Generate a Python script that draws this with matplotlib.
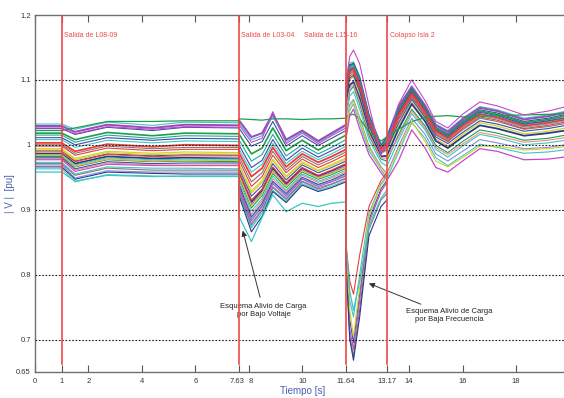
import matplotlib
matplotlib.use("Agg")
import matplotlib.pyplot as plt
import matplotlib.transforms as mtransforms

# knot times (duplicated times mark the switching events)
T = [0, 1, 1.5, 2.7, 4.4, 5.6, 7.63,
     7.63, 8.1, 8.5, 8.9, 9.4, 10.0, 10.6, 11.1, 11.64,
     11.64, 11.78, 11.92, 12.15, 12.5, 12.95, 13.17,
     13.6, 14.1, 14.6, 15.0, 15.45, 16.0, 16.65, 17.3, 18.3, 19.2, 20]
T_island = T[:23]

# buses that stay connected the whole simulation
a1 = [1.032, 1.032, 1.024, 1.035, 1.030, 1.035, 1.034,
      1.034, 1.008, 1.014, 1.044, 1.005, 1.020, 1.004, 1.016, 1.029,
      1.095, 1.126, 1.128, 1.106, 1.047, 1.001, 1.014,
      1.060, 1.091, 1.062, 1.032, 1.022, 1.041, 1.059, 1.054, 1.041, 1.046, 1.053]
a2 = [1.029, 1.029, 1.020, 1.031, 1.026, 1.031, 1.030,
      1.038, 1.012, 1.018, 1.048, 1.008, 1.022, 1.006, 1.018, 1.031,
      1.091, 1.122, 1.124, 1.102, 1.044, 0.998, 1.010,
      1.058, 1.089, 1.060, 1.030, 1.020, 1.039, 1.057, 1.052, 1.039, 1.044, 1.051]
a3 = [1.025, 1.025, 1.016, 1.027, 1.022, 1.027, 1.026,
      1.026, 0.998, 1.005, 1.036, 0.998, 1.014, 0.999, 1.010, 1.022,
      1.093, 1.123, 1.126, 1.103, 1.045, 0.999, 1.012,
      1.054, 1.086, 1.057, 1.027, 1.017, 1.036, 1.054, 1.049, 1.036, 1.041, 1.048]
a4 = [1.018, 1.018, 1.008, 1.019, 1.014, 1.018, 1.017,
      1.017, 0.986, 0.995, 1.026, 0.991, 1.007, 0.992, 1.003, 1.015,
      1.087, 1.117, 1.120, 1.097, 1.040, 0.996, 1.006,
      1.052, 1.084, 1.055, 1.025, 1.015, 1.034, 1.052, 1.047, 1.034, 1.039, 1.046]
a5 = [1.015, 1.015, 1.004, 1.015, 1.010, 1.014, 1.013,
      1.008, 0.975, 0.985, 1.016, 0.983, 1.000, 0.986, 0.996, 1.008,
      1.089, 1.120, 1.123, 1.100, 1.042, 0.997, 1.009,
      1.047, 1.081, 1.052, 1.022, 1.012, 1.030, 1.048, 1.043, 1.031, 1.036, 1.042]
a6 = [1.011, 1.011, 1.000, 1.011, 1.007, 1.010, 1.009,
      1.000, 0.965, 0.976, 1.008, 0.976, 0.995, 0.981, 0.991, 1.002,
      1.084, 1.115, 1.118, 1.095, 1.038, 0.995, 1.004,
      1.049, 1.082, 1.053, 1.023, 1.013, 1.032, 1.050, 1.045, 1.032, 1.037, 1.043]
a7 = [1.008, 1.008, 0.996, 1.007, 1.003, 1.006, 1.005,
      0.994, 0.958, 0.970, 1.002, 0.971, 0.990, 0.977, 0.986, 0.998,
      1.080, 1.111, 1.115, 1.091, 1.036, 0.993, 1.001,
      1.043, 1.077, 1.049, 1.019, 1.008, 1.027, 1.045, 1.040, 1.027, 1.032, 1.038]
a8 = [1.003, 1.003, 0.990, 1.001, 0.997, 1.000, 0.999,
      0.988, 0.951, 0.964, 0.996, 0.966, 0.986, 0.973, 0.982, 0.993,
      1.082, 1.113, 1.117, 1.093, 1.037, 0.994, 1.002,
      1.045, 1.079, 1.051, 1.021, 1.010, 1.029, 1.047, 1.042, 1.029, 1.034, 1.040]
a9 = [1.000, 1.000, 0.987, 0.998, 0.994, 0.996, 0.996,
      0.982, 0.943, 0.957, 0.990, 0.961, 0.982, 0.969, 0.978, 0.989,
      1.075, 1.106, 1.110, 1.086, 1.032, 0.990, 0.996,
      1.038, 1.073, 1.045, 1.015, 1.005, 1.023, 1.041, 1.036, 1.024, 1.028, 1.034]
a10 = [0.998, 0.998, 0.984, 0.995, 0.991, 0.993, 0.993,
       0.977, 0.936, 0.951, 0.984, 0.957, 0.978, 0.965, 0.974, 0.985,
       1.077, 1.109, 1.113, 1.089, 1.034, 0.991, 0.998,
       1.040, 1.075, 1.047, 1.017, 1.006, 1.025, 1.043, 1.038, 1.025, 1.030, 1.036]
a11 = [0.994, 0.994, 0.979, 0.990, 0.987, 0.989, 0.988,
       0.969, 0.926, 0.942, 0.976, 0.950, 0.972, 0.960, 0.968, 0.978,
       1.068, 1.100, 1.105, 1.080, 1.027, 0.987, 0.991,
       1.029, 1.066, 1.039, 1.009, 0.998, 1.016, 1.034, 1.029, 1.017, 1.021, 1.027]
a12 = [0.991, 0.991, 0.975, 0.986, 0.983, 0.985, 0.984,
       0.964, 0.921, 0.937, 0.971, 0.946, 0.969, 0.957, 0.965, 0.975,
       1.071, 1.103, 1.107, 1.083, 1.029, 0.988, 0.993,
       1.033, 1.070, 1.042, 1.012, 1.002, 1.019, 1.037, 1.032, 1.021, 1.025, 1.031]
a13 = [0.986, 0.986, 0.971, 0.982, 0.979, 0.980, 0.979,
       0.957, 0.912, 0.930, 0.964, 0.940, 0.964, 0.952, 0.960, 0.970,
       1.059, 1.092, 1.097, 1.072, 1.021, 0.982, 0.983,
       1.024, 1.063, 1.036, 1.006, 0.995, 1.012, 1.030, 1.025, 1.014, 1.018, 1.023]
a14 = [0.982, 0.982, 0.966, 0.977, 0.974, 0.975, 0.974,
       0.950, 0.903, 0.922, 0.956, 0.934, 0.958, 0.947, 0.954, 0.964,
       1.050, 1.083, 1.090, 1.063, 1.014, 0.978, 0.975,
       1.015, 1.055, 1.029, 0.999, 0.988, 1.005, 1.023, 1.018, 1.007, 1.010, 1.016]
a15 = [0.978, 0.978, 0.961, 0.972, 0.969, 0.969, 0.969,
       0.942, 0.893, 0.914, 0.948, 0.928, 0.953, 0.942, 0.949, 0.958,
       1.055, 1.087, 1.093, 1.067, 1.017, 0.980, 0.979,
       1.011, 1.052, 1.026, 0.996, 0.985, 1.001, 1.019, 1.014, 1.004, 1.007, 1.012]
a16 = [0.973, 0.973, 0.955, 0.966, 0.964, 0.964, 0.963,
       0.936, 0.886, 0.907, 0.942, 0.923, 0.948, 0.938, 0.944, 0.954,
       1.041, 1.075, 1.082, 1.055, 1.008, 0.973, 0.967,
       1.006, 1.048, 1.023, 0.993, 0.981, 0.998, 1.016, 1.011, 1.000, 1.003, 1.008]
a17 = [0.969, 0.969, 0.949, 0.960, 0.958, 0.958, 0.958,
       0.931, 0.879, 0.901, 0.936, 0.918, 0.944, 0.934, 0.940, 0.949,
       1.028, 1.062, 1.070, 1.042, 0.998, 0.966, 0.956,
       0.997, 1.041, 1.016, 0.986, 0.975, 0.990, 1.008, 1.003, 0.994, 0.996, 1.001]
a18 = [0.963, 0.963, 0.943, 0.954, 0.952, 0.951, 0.951,
       0.925, 0.872, 0.895, 0.930, 0.913, 0.940, 0.930, 0.936, 0.945,
       1.019, 1.053, 1.063, 1.033, 0.991, 0.962, 0.948,
       0.988, 1.034, 1.010, 0.980, 0.968, 0.983, 1.001, 0.996, 0.987, 0.989, 0.993]
green_flat = [1.022, 1.022, 1.026, 1.036, 1.036, 1.037, 1.037,
              1.040, 1.039, 1.038, 1.040, 1.040, 1.039, 1.040, 1.040, 1.041,
              1.044, 1.046, 1.047, 1.040, 1.020, 1.006, 1.012,
              1.024, 1.036, 1.042, 1.044, 1.045, 1.043, 1.044, 1.045, 1.046, 1.047, 1.048]
magenta_top = [1.026, 1.026, 1.017, 1.028, 1.024, 1.028, 1.027,
               1.031, 1.004, 1.010, 1.051, 1.002, 1.018, 1.002, 1.014, 1.026,
               1.100, 1.136, 1.146, 1.125, 1.060, 0.985, 1.000,
               1.062, 1.100, 1.068, 1.036, 1.026, 1.047, 1.066, 1.060, 1.046, 1.052, 1.060]
magenta_low = [0.984, 0.984, 0.967, 0.978, 0.975, 0.976, 0.976,
               0.954, 0.908, 0.926, 0.960, 0.937, 0.961, 0.950, 0.957, 0.967,
               1.010, 1.045, 1.055, 1.025, 0.985, 0.957, 0.945,
               0.975, 1.023, 0.995, 0.965, 0.958, 0.975, 0.994, 0.990, 0.977, 0.978, 0.982]
yellow_low = [0.992, 0.992, 0.977, 0.988, 0.985, 0.986, 0.986,
              0.971, 0.929, 0.945, 0.978, 0.952, 0.974, 0.961, 0.970, 0.980,
              1.024, 1.058, 1.067, 1.038, 0.995, 0.963, 0.952,
              0.992, 1.036, 1.005, 0.975, 0.966, 0.980, 0.998, 0.998, 0.992, 0.994, 0.998]

# island-2 buses (load shedding by low frequency, collapse at 13.17 s)
b1 = [0.989, 0.989, 0.974, 0.985, 0.982, 0.983, 0.983,
      0.959, 0.915, 0.932, 0.966, 0.942, 0.965, 0.953, 0.961, 0.971,
      0.845, 0.790, 0.770, 0.830, 0.905, 0.945, 0.957]
b2 = [0.985, 0.985, 0.969, 0.980, 0.977, 0.978, 0.978,
      0.946, 0.898, 0.917, 0.952, 0.930, 0.955, 0.944, 0.951, 0.961,
      0.840, 0.760, 0.735, 0.800, 0.895, 0.940, 0.952]
b3 = [0.980, 0.980, 0.963, 0.974, 0.971, 0.972, 0.972,
      0.939, 0.889, 0.910, 0.944, 0.925, 0.950, 0.939, 0.946, 0.956,
      0.830, 0.730, 0.695, 0.770, 0.885, 0.932, 0.945]
b4 = [0.977, 0.977, 0.959, 0.970, 0.968, 0.968, 0.968,
      0.934, 0.883, 0.905, 0.940, 0.921, 0.947, 0.936, 0.943, 0.952,
      0.825, 0.715, 0.685, 0.760, 0.880, 0.928, 0.942]
b5 = [0.984, 0.984, 0.967, 0.978, 0.975, 0.976, 0.976,
      0.953, 0.906, 0.925, 0.959, 0.936, 0.960, 0.949, 0.956, 0.966,
      0.835, 0.745, 0.705, 0.780, 0.890, 0.937, 0.950]
b6 = [0.971, 0.971, 0.953, 0.964, 0.961, 0.961, 0.961,
      0.928, 0.876, 0.899, 0.934, 0.916, 0.943, 0.932, 0.939, 0.948,
      0.820, 0.705, 0.675, 0.745, 0.870, 0.915, 0.925]
b7 = [0.966, 0.966, 0.947, 0.958, 0.956, 0.955, 0.955,
      0.922, 0.866, 0.890, 0.928, 0.911, 0.938, 0.928, 0.934, 0.943,
      0.815, 0.700, 0.668, 0.735, 0.860, 0.905, 0.915]
cyan_low = [0.958, 0.958, 0.944, 0.953, 0.951, 0.952, 0.952,
            0.890, 0.851, 0.888, 0.923, 0.897, 0.910, 0.905, 0.910, 0.912,
            0.848, 0.775, 0.745, 0.790, 0.875, 0.918, 0.930]

event_times = [1, 7.63, 11.64, 13.17]
event_labels = ["Salida de L08-09", "Salida de L03-04", "Salida de L15-16", "Colapso Isla 2"]
event_label_x = [1.08, 7.7, 10.05, 13.27]

xticks = [0, 1, 2, 4, 6, 7.63, 8, 10, 11.64, 13.17, 14, 16, 18]
xticklabels = ["0", "1", "2", "4", "6", "7.63", "8", "10", "11.64", "13.17", "14", "16", "18"]
yticks = [0.65, 0.7, 0.8, 0.9, 1.0, 1.1, 1.2]
yticklabels = ["0.65", "0.7", "0.8", "0.9", "1", "1.1", "1.2"]

C_BLUE = "#3a4fa8"
C_GREEN = "#1f9e4a"
C_RED = "#f03a3a"
C_CYAN = "#3cc6c6"
C_MAG = "#c648c6"
C_YEL = "#d2d22a"
C_GRAY = "#7a7a7a"
C_LAV = "#8a8ad8"
C_SAL = "#f08a8a"
C_TEAL = "#22a8a0"
C_NAVY = "#2a3a8a"
C_PURP = "#9a4ab8"

full_traces = [
    (a1, C_CYAN, 0.8), (a2, C_PURP, 1.4), (a3, C_BLUE, 0.8), (a4, C_GREEN, 1.2),
    (a5, C_TEAL, 0.8), (a6, C_BLUE, 0.8), (a7, C_CYAN, 0.8), (a8, C_RED, 1.3),
    (a9, C_GRAY, 0.8), (a10, C_RED, 0.8), (a11, C_YEL, 0.9), (a12, C_BLUE, 0.8),
    (a13, C_NAVY, 1.3), (a14, C_GREEN, 0.8), (a15, C_SAL, 0.8), (a16, C_CYAN, 0.8),
    (a17, C_LAV, 0.8), (a18, C_CYAN, 0.8), (green_flat, C_GREEN, 0.9),
    (magenta_top, C_MAG, 0.8), (magenta_low, C_MAG, 0.9), (yellow_low, C_YEL, 0.8),
]
island_traces = [
    (b1, C_RED, 0.8), (b2, C_CYAN, 0.8), (b3, C_BLUE, 0.8), (b4, C_MAG, 0.8),
    (b5, C_YEL, 0.8), (b6, C_GRAY, 0.8), (b7, C_NAVY, 0.8), (cyan_low, C_CYAN, 0.9),
]

plt.rcParams['font.family'] = ['Liberation Sans Narrow', 'Liberation Sans', 'DejaVu Sans']

fig = plt.figure(figsize=(5.64, 3.98), dpi=100)
ax = fig.add_axes([35 / 564, 1 - 372 / 398, 534.4 / 564, (372 - 15) / 398])

for vals, col, lw in full_traces:
    ax.plot(T, vals, color=col, lw=lw, zorder=2)
for vals, col, lw in island_traces:
    ax.plot(T_island, vals, color=col, lw=lw, zorder=2)

for tx in event_times:
    ax.plot([tx, tx], [0.662, 1.2], color="#f04848", lw=1.2, zorder=4)
for lx, lab in zip(event_label_x, event_labels):
    ax.text(lx, 1.168, lab, color="#f04848", fontsize=5, ha="left", va="center")

ax.set_xlim(0, 20)
ax.set_ylim(0.65, 1.2)
ax.set_xticks(xticks)
ax.set_xticklabels(xticklabels)
ax.set_yticks(yticks)
ax.set_yticklabels(yticklabels)
ax.tick_params(axis="x", direction="in", top=True, length=5, width=0.8, colors="#555555",
               labelsize=5.5, pad=4, labelcolor="#333333")
ax.tick_params(axis="y", direction="in", length=0, labelsize=5.5, pad=3, labelcolor="#333333")

# nudge the crowded "7.63" / "8" labels apart slightly
for lab in ax.get_xticklabels():
    if lab.get_text() == "7.63":
        lab.set_transform(lab.get_transform() + mtransforms.ScaledTranslation(-2 / 100, 0, fig.dpi_scale_trans))
    elif lab.get_text() == "8":
        lab.set_transform(lab.get_transform() + mtransforms.ScaledTranslation(2 / 100, 0, fig.dpi_scale_trans))

for yv in [0.7, 0.8, 0.9, 1.0, 1.1]:
    ax.axhline(yv, color="#222222", lw=0.8, ls=(0, (1.5, 1.5)), zorder=3)

for s in ["left", "bottom", "top"]:
    ax.spines[s].set_color("#707070")
    ax.spines[s].set_linewidth(1.0)
ax.spines["right"].set_visible(False)

ax.set_xlabel("Tiempo [s]", color="#4a5fb0", fontsize=7, labelpad=1)
ax.set_ylabel("| V |  [pu]", color="#4a5fb0", fontsize=7)
ax.yaxis.set_label_coords(-0.038, 0.5)

arrow = dict(arrowstyle="-|>", color="#333333", lw=0.7, mutation_scale=8)
ax.annotate("Esquema Alivio de Carga\npor Bajo Voltaje", xy=(7.75, 0.872), xytext=(8.55, 0.745),
            ha="center", va="center", fontsize=5.5, color="#222222", arrowprops=arrow)
ax.annotate("Esquema Alivio de Carga\npor Baja Frecuencia", xy=(12.4, 0.788), xytext=(15.5, 0.737),
            ha="center", va="center", fontsize=5.5, color="#222222", arrowprops=arrow)

fig.savefig("out.png", dpi=100)
